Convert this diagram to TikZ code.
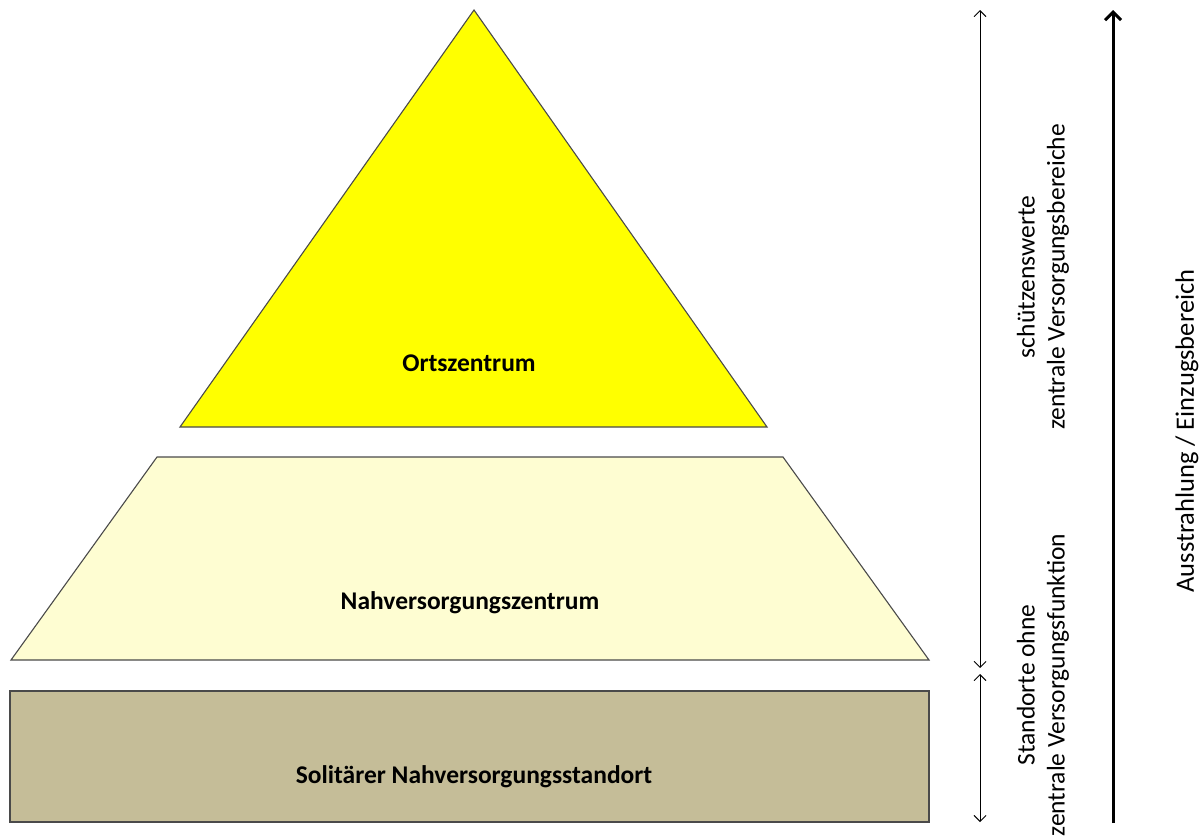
\documentclass[tikz,border=0pt]{standalone}
\usepackage{fontspec}
\setmainfont{Carlito}
\usepackage{tikz}
\usetikzlibrary{arrows.meta}
\definecolor{ortsgelb}{HTML}{FFFF00}
\definecolor{nahgelb}{HTML}{FEFDD2}
\definecolor{solbraun}{HTML}{C5BD98}
\definecolor{randgrau}{HTML}{4A4A4A}

\begin{document}
\begin{tikzpicture}[x=1pt,y=-1pt,
  stufe/.style={draw=randgrau,line width=1.1pt},
  stufetext/.style={font=\bfseries\fontsize{25.5}{30}\selectfont},
  seitentext/.style={rotate=90,align=center,font=\fontsize{25.5}{30}\selectfont},
  duenn/.style={line width=0.9pt,{Straight Barb[length=6,width=12]}-{Straight Barb[length=6,width=12]}},
  dick/.style={line width=3pt,-{Straight Barb[length=8,width=16]}}]
\useasboundingbox (0,0) rectangle (1204,836);
% Stufen
\draw[stufe,fill=ortsgelb] (474,10) -- (767,427) -- (180,427) -- cycle;
\draw[stufe,fill=nahgelb] (157,457) -- (783,457) -- (929,660) -- (11,660) -- cycle;
\draw[stufe,fill=solbraun] (10,691) rectangle (929,822);
\node[stufetext] (orts) at (469,363) {Ortszentrum};
\node[stufetext] (nah) at (470,603) {Nahversorgungszentrum};
\node[stufetext] (sol) at (474,777) {Solitärer Nahversorgungsstandort};
% Pfeile
\coordinate (zvoben) at (980,10);
\coordinate (zvmitte) at (980,668);
\coordinate (somitte) at (980,674);
\coordinate (sounten) at (980,822);
\coordinate (ausunten) at (1113,823);
\coordinate (ausoben) at (1113,10);
\draw[duenn] (zvoben) -- (zvmitte);
\draw[duenn] (somitte) -- (sounten);
\draw[dick] (ausunten) -- (ausoben);
\node[seitentext] (zv) at (1043,277) {schützenswerte\\zentrale Versorgungsbereiche};
\node[seitentext] (so) at (1043,685) {Standorte ohne\\zentrale Versorgungsfunktion};
\node[seitentext,font=\fontsize{26.5}{30}\selectfont] (aus) at (1187,431) {Ausstrahlung / Einzugsbereich};
\end{tikzpicture}
\end{document}
